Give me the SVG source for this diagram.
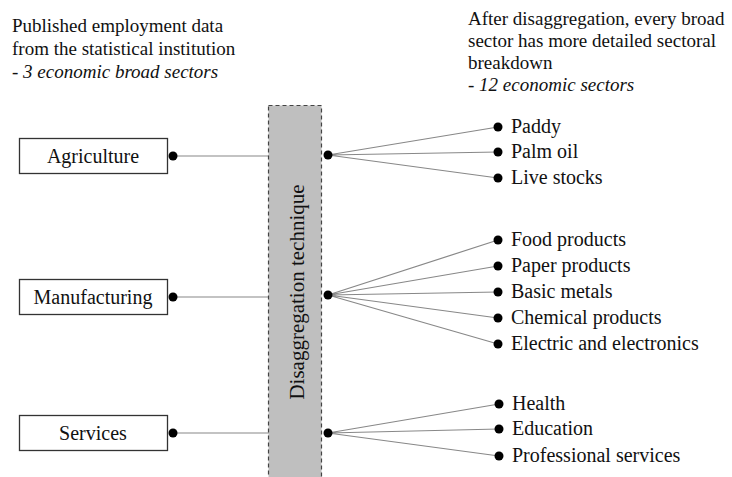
<svg xmlns="http://www.w3.org/2000/svg" width="732" height="477" viewBox="0 0 732 477" font-family="'Liberation Serif', 'DejaVu Serif', serif">
<style>
text{font-family:'Liberation Serif','DejaVu Serif',serif;fill:#111}
.hd{font-size:19px}
.it{font-style:italic}
.box{fill:#fff;stroke:#333;stroke-width:1.3}
.bl{font-size:20px;text-anchor:middle}
.lb{font-size:20px}
.ln{stroke:#888;stroke-width:1.2;fill:none}
.dot{fill:#000}
</style>
<rect width="732" height="477" fill="#fff"/>
<g id="header-left">
<text class="hd" x="12" y="32">Published employment data</text>
<text class="hd" x="12" y="55">from the statistical institution</text>
<text class="hd" x="12" y="78">- <tspan class="it">3 economic broad sectors</tspan></text>
</g>
<g id="header-right">
<text class="hd" x="468" y="25">After disaggregation, every broad</text>
<text class="hd" x="468" y="47">sector has more detailed sectoral</text>
<text class="hd" x="468" y="69">breakdown</text>
<text class="hd it" x="468" y="91">- 12 economic sectors</text>
</g>
<g id="connectors">
<line class="ln" x1="173" y1="156" x2="269" y2="156"/>
<line class="ln" x1="173" y1="297" x2="269" y2="297"/>
<line class="ln" x1="173" y1="433" x2="269" y2="433"/>
<path class="ln" d="M328 155 L498 127 M328 155 L498 152 M328 155 L498 178"/>
<path class="ln" d="M328 295 L498 240 M328 295 L498 266 M328 295 L498 292 M328 295 L498 318 M328 295 L498 344"/>
<path class="ln" d="M328 433 L499 404 M328 433 L499 429 M328 433 L499 456"/>
</g>
<g id="technique">
<rect x="268.5" y="105.5" width="53" height="380" fill="#bfbfbf" stroke="#444" stroke-width="1.2" stroke-dasharray="4,3"/>
<text x="304" y="292" font-size="21" text-anchor="middle" transform="rotate(-90 304 292)">Disaggregation technique</text>
<circle class="dot" cx="328" cy="155" r="4.5"/>
<circle class="dot" cx="328" cy="295" r="4.5"/>
<circle class="dot" cx="328" cy="433" r="4.5"/>
</g>
<g id="agriculture">
<rect class="box" x="19.5" y="138.5" width="148" height="35"/>
<text class="bl" x="93" y="163">Agriculture</text>
<circle class="dot" cx="173" cy="156" r="4.5"/>
</g>
<g id="manufacturing">
<rect class="box" x="19.5" y="279.5" width="148" height="35"/>
<text class="bl" x="93" y="304">Manufacturing</text>
<circle class="dot" cx="173" cy="297" r="4.5"/>
</g>
<g id="services">
<rect class="box" x="19.5" y="415.5" width="148" height="35"/>
<text class="bl" x="93" y="440">Services</text>
<circle class="dot" cx="173" cy="433" r="4.5"/>
</g>
<g id="agri-outputs">
<circle class="dot" cx="498" cy="127" r="4.5"/><text class="lb" x="511" y="133">Paddy</text>
<circle class="dot" cx="498" cy="152" r="4.5"/><text class="lb" x="511" y="158">Palm oil</text>
<circle class="dot" cx="498" cy="178" r="4.5"/><text class="lb" x="511" y="184">Live stocks</text>
</g>
<g id="manu-outputs">
<circle class="dot" cx="498" cy="240" r="4.5"/><text class="lb" x="511" y="246">Food products</text>
<circle class="dot" cx="498" cy="266" r="4.5"/><text class="lb" x="511" y="272">Paper products</text>
<circle class="dot" cx="498" cy="292" r="4.5"/><text class="lb" x="511" y="298">Basic metals</text>
<circle class="dot" cx="498" cy="318" r="4.5"/><text class="lb" x="511" y="324">Chemical products</text>
<circle class="dot" cx="498" cy="344" r="4.5"/><text class="lb" x="511" y="350">Electric and electronics</text>
</g>
<g id="serv-outputs">
<circle class="dot" cx="499" cy="404" r="4.5"/><text class="lb" x="512" y="410">Health</text>
<circle class="dot" cx="499" cy="429" r="4.5"/><text class="lb" x="512" y="435">Education</text>
<circle class="dot" cx="499" cy="456" r="4.5"/><text class="lb" x="512" y="462">Professional services</text>
</g>
</svg>
